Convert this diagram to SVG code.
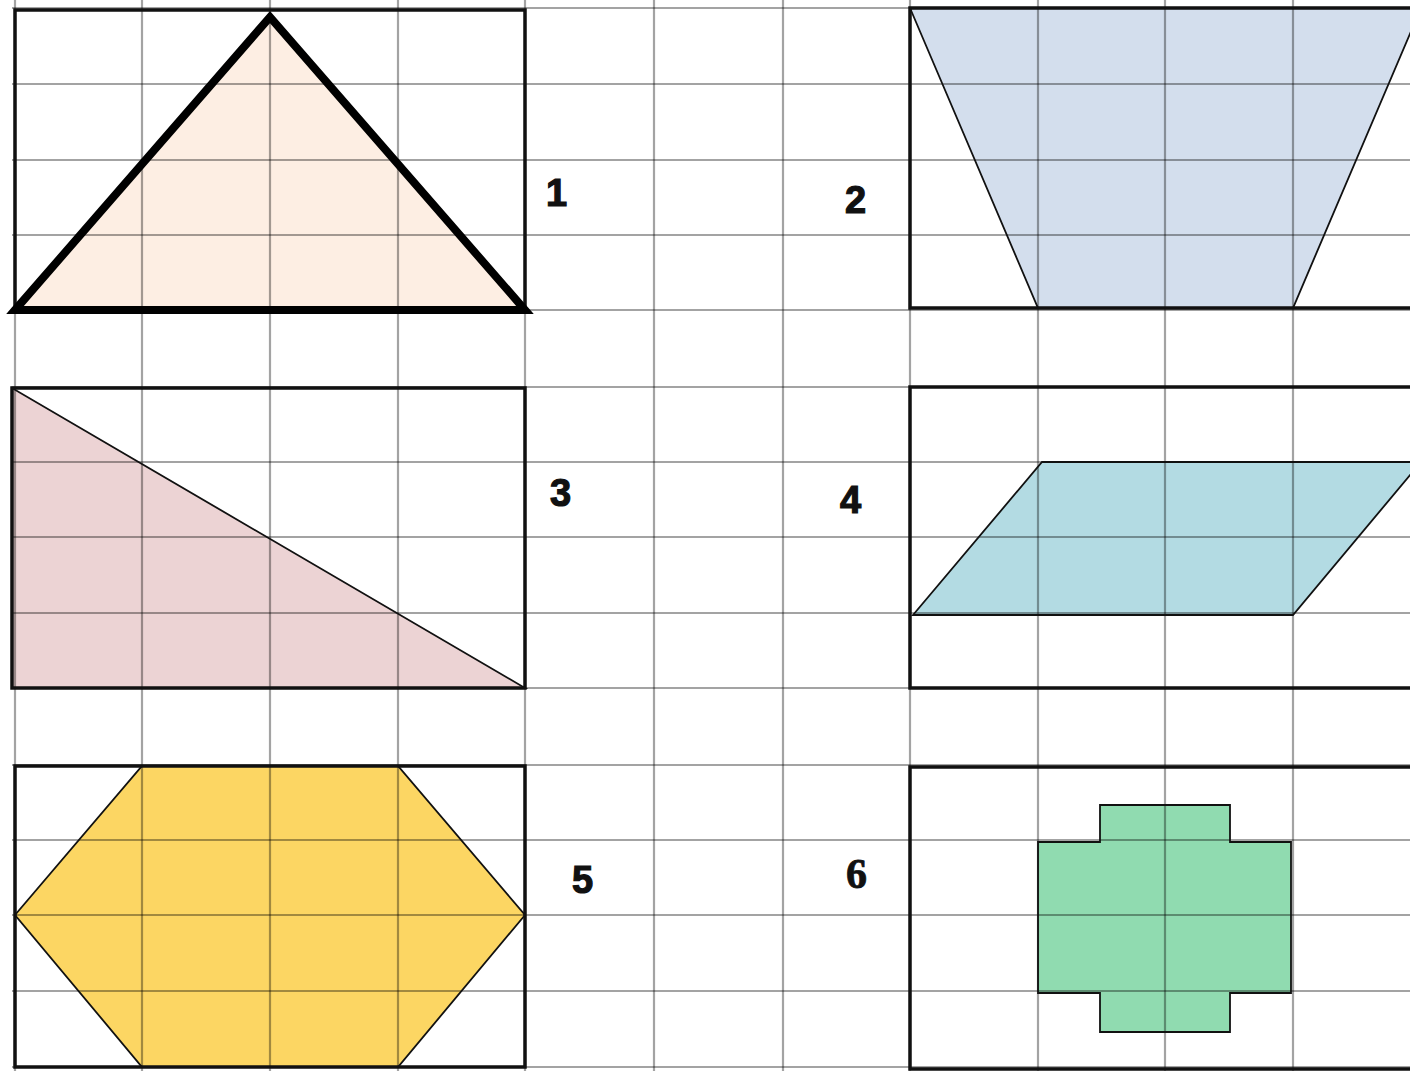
<svg xmlns="http://www.w3.org/2000/svg" width="1410" height="1071" viewBox="0 0 1410 1071">
<style>
.bg{fill:#ffffff}
.grid line{stroke:#000;stroke-opacity:0.36;stroke-width:2.2}
.frame{fill:none;stroke:#111;stroke-width:3.5}
.shape{stroke:#111;stroke-width:1.8;stroke-linejoin:miter}
.num{font-family:"Liberation Sans",Arial,sans-serif;font-weight:bold;font-size:38px;fill:#111;stroke:#111;stroke-width:1.2}
.num6{font-family:"Liberation Serif","Times New Roman",serif;font-weight:bold;font-size:42px;fill:#111;stroke:#111;stroke-width:0.8}
</style>
<rect class="bg" x="0" y="0" width="1410" height="1071"/>

<g id="fills">
  <polygon points="15,310 270,15 525,310" fill="#fdeee3"/>
  <polygon points="910,8 1421,8 1293,308 1038,308" fill="#d3deed"/>
  <polygon points="12,388 12,688 525,688" fill="#ecd3d4"/>
  <polygon points="913,615 1042,462 1421,462 1293,615" fill="#b3dbe3"/>
  <polygon points="15,915 142,766 398,766 525,915 398,1067 142,1067" fill="#fcd663"/>
  <polygon points="1100,805 1230,805 1230,842 1291,842 1291,993 1230,993 1230,1032 1100,1032 1100,993 1038,993 1038,842 1100,842" fill="#90dbb0"/>
</g>

<g class="grid" id="grid">
  <line x1="142" y1="0" x2="142" y2="1071"/>
  <line x1="270" y1="0" x2="270" y2="1071"/>
  <line x1="398" y1="0" x2="398" y2="1071"/>
  <line x1="525" y1="0" x2="525" y2="1071"/>
  <line x1="654" y1="0" x2="654" y2="1071"/>
  <line x1="783" y1="0" x2="783" y2="1071"/>
  <line x1="910" y1="0" x2="910" y2="1071"/>
  <line x1="1038" y1="0" x2="1038" y2="1071"/>
  <line x1="1165" y1="0" x2="1165" y2="1071"/>
  <line x1="1293" y1="0" x2="1293" y2="1071"/>
  <line x1="15" y1="0" x2="15" y2="1071"/>
  <line x1="12" y1="8" x2="1410" y2="8"/>
  <line x1="12" y1="84" x2="1410" y2="84"/>
  <line x1="12" y1="160" x2="1410" y2="160"/>
  <line x1="12" y1="235" x2="1410" y2="235"/>
  <line x1="12" y1="310" x2="1410" y2="310"/>
  <line x1="12" y1="387" x2="1410" y2="387"/>
  <line x1="12" y1="462" x2="1410" y2="462"/>
  <line x1="12" y1="537" x2="1410" y2="537"/>
  <line x1="12" y1="613" x2="1410" y2="613"/>
  <line x1="12" y1="688" x2="1410" y2="688"/>
  <line x1="12" y1="765" x2="1410" y2="765"/>
  <line x1="12" y1="840" x2="1410" y2="840"/>
  <line x1="12" y1="915" x2="1410" y2="915"/>
  <line x1="12" y1="991" x2="1410" y2="991"/>
  <line x1="12" y1="1067" x2="1410" y2="1067"/>
</g>

<g id="frames">
  <rect class="frame" x="15" y="10" width="510" height="300"/>
  <path class="frame" d="M1412,8 H910 V308 H1412"/>
  <rect class="frame" x="12" y="388" width="513" height="300"/>
  <path class="frame" d="M1412,387 H910 V688 H1412"/>
  <rect class="frame" x="15" y="766" width="510" height="301"/>
  <path class="frame" d="M1412,767 H910 V1069 H1412"/>
</g>

<g id="shape-1">
  <polygon points="15,310 270,17 525,310" fill="none" stroke="#000" stroke-width="8" stroke-linejoin="miter"/>
</g>
<g id="shape-2">
  <polygon class="shape" points="910,8 1421,8 1293,308 1038,308" fill="none"/>
</g>
<g id="shape-3">
  <polygon class="shape" points="12,388 12,688 525,688" fill="none"/>
</g>
<g id="shape-4">
  <polygon class="shape" points="913,615 1042,462 1421,462 1293,615" fill="none"/>
</g>
<g id="shape-5">
  <polygon class="shape" points="15,915 142,766 398,766 525,915 398,1067 142,1067" fill="none"/>
</g>
<g id="shape-6">
  <polygon class="shape" points="1100,805 1230,805 1230,842 1291,842 1291,993 1230,993 1230,1032 1100,1032 1100,993 1038,993 1038,842 1100,842" fill="none"/>
</g>

<g id="labels">
  <text class="num" x="546" y="206">1</text>
  <text class="num" x="845" y="213">2</text>
  <text class="num" x="550" y="506">3</text>
  <text class="num" x="840" y="513">4</text>
  <text class="num" x="572" y="893">5</text>
  <text class="num6" x="846" y="888">6</text>
</g>
</svg>
